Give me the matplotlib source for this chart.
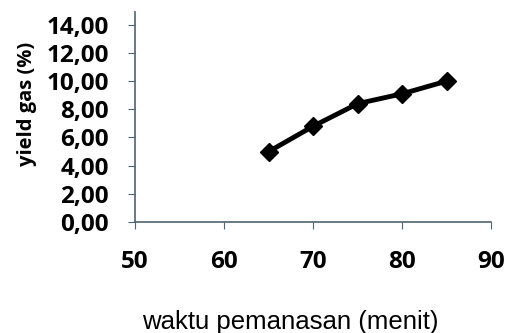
import matplotlib.pyplot as plt

waktu = [65, 70, 75, 80, 85]
yield_gas = [5.0, 6.8, 8.4, 9.1, 10.0]

x_ticks = [50, 60, 70, 80, 90]
y_ticks = [0, 2, 4, 6, 8, 10, 12, 14]
y_labels = ["%.2f" % v for v in y_ticks]
y_labels = [s.replace(".", ",") for s in y_labels]

axis_col = "#4f6470"

fig = plt.figure(figsize=(5.08, 3.33), dpi=100)
ax = fig.add_axes([0.266, 0.333, 0.701, 0.631])

ax.plot(waktu, yield_gas, "-", color="black", linewidth=3.5,
        marker="D", markersize=9, markerfacecolor="black", markeredgecolor="black")

ax.set_xlim(50, 90)
ax.set_ylim(0, 14.9)
ax.set_xticks(x_ticks)
ax.set_yticks(y_ticks)
ax.set_yticklabels(y_labels, fontfamily="Open Sans", fontweight="bold", fontsize=17.5)
ax.set_xticklabels([str(v) for v in x_ticks], fontfamily="Open Sans", fontweight="bold", fontsize=17.5)

for s in ["top", "right"]:
    ax.spines[s].set_visible(False)
for s in ["left", "bottom"]:
    ax.spines[s].set_color(axis_col)
    ax.spines[s].set_linewidth(1.2)

ax.tick_params(axis="x", direction="out", length=5, color=axis_col, pad=15)
ax.tick_params(axis="y", direction="out", length=5, color=axis_col, pad=14)

fig.text(27 / 508, 1 - 104 / 333, "yield gas (%)", rotation=90, ha="center", va="center",
         fontfamily="Open Sans", fontweight="bold", fontsize=14.5)
fig.text(290 / 508, 1 - 322 / 333, "waktu pemanasan (menit)", ha="center", va="center",
         fontfamily="Liberation Sans", fontsize=18.5)

fig.savefig("out.png", dpi=100)
